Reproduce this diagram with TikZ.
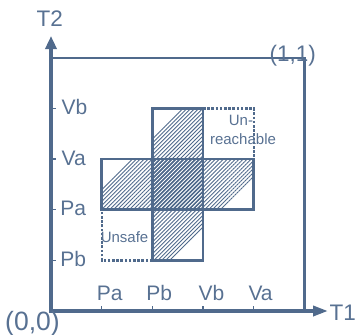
\documentclass[tikz,border=0pt]{standalone}
\usepackage{fontspec}
\setmainfont{Liberation Sans}
\usetikzlibrary{arrows.meta,patterns.meta}
\definecolor{ink}{RGB}{80,106,140}
\definecolor{textink}{RGB}{88,113,146}
\begin{document}
\begin{tikzpicture}[x=1pt,y=-1pt,
  axisline/.style={draw=ink,line width=3.5pt},
  boxline/.style={draw=ink,line width=2.5pt},
  tickmark/.style={draw=ink,line width=1.5pt},
  dotbox/.style={draw=ink,line width=2.2pt,dash pattern=on 2.6pt off 1.6pt},
  hatchA/.style={pattern={Lines[angle=45,distance=2.8pt,line width=0.9pt]},pattern color=ink},
  hatchB/.style={pattern={Lines[angle=45,distance=2.8pt,line width=1.5pt]},pattern color=ink},
  lbl/.style={text=textink,inner sep=0pt,font=\fontsize{21}{24}\selectfont},
  biglbl/.style={text=textink,inner sep=0pt,font=\fontsize{22.5}{26}\selectfont},
  smalllbl/.style={text=textink,inner sep=0pt,font=\fontsize{15}{18}\selectfont}]
\useasboundingbox (0,0) rectangle (357,335);

% key coordinates
\coordinate (O) at (51,311);
\coordinate (ytip) at (51,36);
\coordinate (xtip) at (328,311);
\coordinate (TL) at (51,57.8);
\coordinate (TR) at (304.5,57.8);
\coordinate (BR) at (304.5,311);

% hatching, clipped to the diagonal band
\begin{scope}
  \clip (289.5,0) -- (432,0) -- (0,432) -- (0,289.5) -- cycle;
  \fill[hatchA] (101.7,159.1) rectangle (253.6,209.7);
  \fill[hatchA] (152.3,108.4) rectangle (203,260.4);
  \fill[hatchB] (152.3,159.1) rectangle (203,209.7);
\end{scope}

% dotted boxes
\draw[dotbox] (152.3,260.4) -- (101.7,260.4) -- (101.7,209.7);
\draw[dotbox] (203,108.4) -- (253.6,108.4) -- (253.6,159.1);

% solid rectangles
\coordinate (H1) at (101.7,159.1);
\coordinate (H2) at (253.6,209.7);
\coordinate (V1) at (152.3,108.4);
\coordinate (V2) at (203,260.4);
\draw[boxline] (H1) rectangle (H2);
\draw[boxline] (V1) rectangle (V2);

% outer box
\draw[boxline] (TL) -- (TR) -- (BR);

% ticks
\foreach \y in {260.4,209.7,159.1,108.4} \draw[tickmark] (51,\y) -- (55.5,\y);
\foreach \x in {101.7,152.3,203,253.6} \draw[tickmark] (\x,311) -- (\x,306);

% axes
\draw[axisline,-{Triangle[length=13pt,width=11pt]}] (51,312.7) -- (ytip);
\draw[axisline,-{Triangle[length=15pt,width=10pt]}] (O) -- (xtip);

% labels
\node[biglbl,anchor=base west] (t2) at (36.5,26) {T2};
\node[biglbl,anchor=base west] (t1) at (329.5,320) {T1};
\node[biglbl,anchor=base west] (one) at (269.5,61.7) {(1,1)};
\node[text=textink,inner sep=0pt,font=\fontsize{26.5}{30}\selectfont,anchor=base west] (zero) at (5,330) {(0,0)};

\node[lbl,anchor=base west] (yvb) at (61.5,114.2) {Vb};
\node[lbl,anchor=base west] (yva) at (61.5,165) {Va};
\node[lbl,anchor=base west] (ypa) at (60.2,215.8) {Pa};
\node[lbl,anchor=base west] (ypb) at (60.2,266.2) {Pb};

\node[lbl,anchor=base west] (xpa) at (96.6,300) {Pa};
\node[lbl,anchor=base west] (xpb) at (146.2,300) {Pb};
\node[lbl,anchor=base west] (xvb) at (198.3,300) {Vb};
\node[lbl,anchor=base west] (xva) at (248.3,300) {Va};

\node[smalllbl,anchor=base west] (unsafe) at (100.6,242.5) {Unsafe};
\node[smalllbl,anchor=base] (un) at (241,125) {Un-};
\node[smalllbl,anchor=base] (reach) at (243,144) {reachable};
\end{tikzpicture}
\end{document}
